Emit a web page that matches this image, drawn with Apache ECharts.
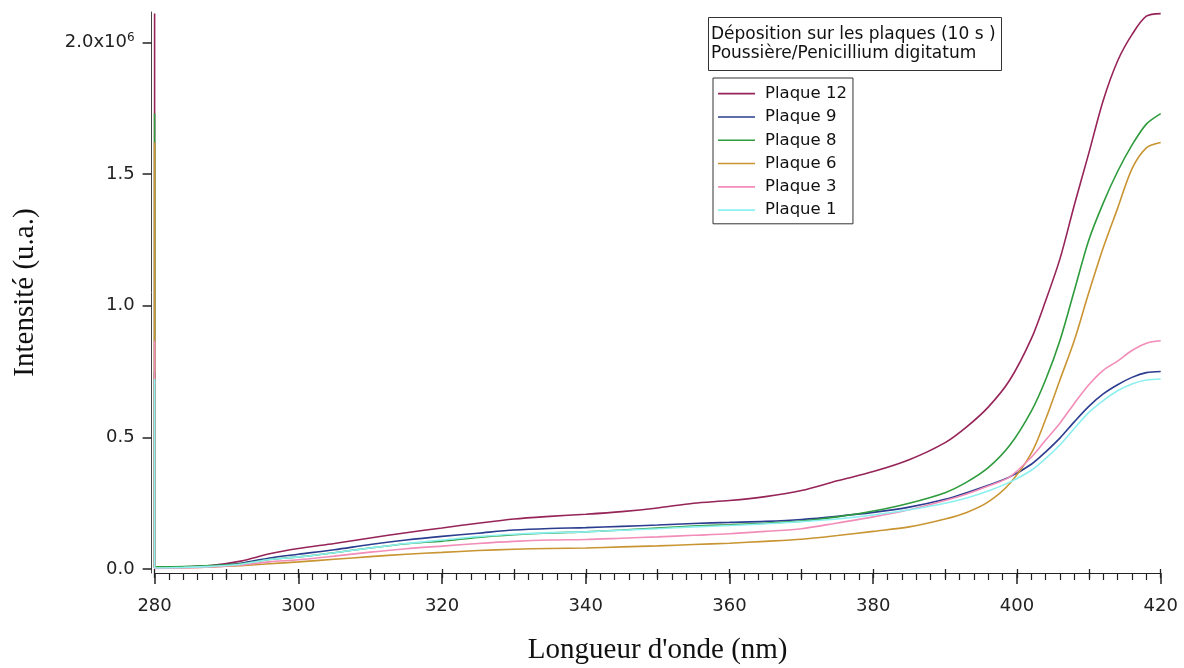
<!DOCTYPE html>
<html>
<head>
<meta charset="utf-8">
<script src="https://cdn.jsdelivr.net/npm/echarts@6/dist/echarts.min.js"></script>
<style>
  html, body { margin: 0; padding: 0; background: #ffffff; }
  #chart { width: 1184px; height: 668px; }
</style>
</head>
<body>
<div id="chart"></div>
<script>
// Wavelength grid (nm)
const wavelengths = [280, 284, 288, 292, 296, 300, 305, 310, 315, 320, 325, 330, 335, 340, 345, 350, 355, 360, 365, 370, 375, 380, 385, 390, 393, 396, 399, 402, 404, 406, 408, 410, 412, 414, 416, 418, 420];

// Fluorescence intensity, in units of 10^6 (u.a.)
const plaque12 = [0.006, 0.008, 0.014, 0.030, 0.058, 0.078, 0.097, 0.118, 0.138, 0.156, 0.174, 0.190, 0.200, 0.208, 0.218, 0.232, 0.250, 0.260, 0.275, 0.298, 0.335, 0.370, 0.415, 0.480, 0.540, 0.615, 0.718, 0.875, 1.020, 1.180, 1.385, 1.580, 1.780, 1.930, 2.030, 2.100, 2.110];
const plaque9  = [0.006, 0.007, 0.012, 0.022, 0.042, 0.056, 0.073, 0.093, 0.110, 0.124, 0.136, 0.148, 0.154, 0.157, 0.162, 0.167, 0.173, 0.177, 0.181, 0.188, 0.200, 0.215, 0.235, 0.265, 0.290, 0.318, 0.350, 0.398, 0.445, 0.498, 0.560, 0.618, 0.665, 0.700, 0.728, 0.746, 0.750];
const plaque8  = [0.008, 0.009, 0.013, 0.020, 0.036, 0.046, 0.062, 0.080, 0.096, 0.106, 0.120, 0.130, 0.137, 0.141, 0.148, 0.156, 0.163, 0.168, 0.174, 0.182, 0.198, 0.220, 0.250, 0.290, 0.330, 0.385, 0.470, 0.600, 0.720, 0.870, 1.060, 1.250, 1.390, 1.510, 1.610, 1.690, 1.730];
const plaque6  = [0.004, 0.005, 0.008, 0.013, 0.020, 0.027, 0.037, 0.047, 0.056, 0.063, 0.070, 0.075, 0.078, 0.080, 0.084, 0.088, 0.093, 0.098, 0.105, 0.113, 0.127, 0.143, 0.160, 0.190, 0.215, 0.255, 0.325, 0.440, 0.570, 0.720, 0.870, 1.050, 1.220, 1.370, 1.520, 1.600, 1.620];
const plaque3  = [0.002, 0.004, 0.008, 0.015, 0.027, 0.035, 0.049, 0.064, 0.077, 0.087, 0.097, 0.105, 0.110, 0.112, 0.117, 0.122, 0.128, 0.134, 0.143, 0.153, 0.175, 0.198, 0.225, 0.260, 0.285, 0.315, 0.350, 0.425, 0.490, 0.555, 0.630, 0.700, 0.755, 0.790, 0.830, 0.858, 0.867];
const plaque1  = [0.004, 0.006, 0.010, 0.018, 0.036, 0.046, 0.062, 0.080, 0.097, 0.110, 0.123, 0.132, 0.138, 0.141, 0.147, 0.153, 0.160, 0.165, 0.172, 0.180, 0.190, 0.205, 0.225, 0.250, 0.270, 0.296, 0.330, 0.375, 0.420, 0.472, 0.535, 0.595, 0.640, 0.677, 0.703, 0.718, 0.722];

// Axis tick labels
const xTickLabels = [280, 300, 320, 340, 360, 380, 400, 420];
const yTickValues = [0, 0.5, 1.0, 1.5, 2.0];

const traces = [
  { name: 'Plaque 12', values: plaque12, color: '#962458' },
  { name: 'Plaque 9',  values: plaque9,  color: '#2B3D8F' },
  { name: 'Plaque 8',  values: plaque8,  color: '#2E9B3C' },
  { name: 'Plaque 6',  values: plaque6,  color: '#C99532' },
  { name: 'Plaque 3',  values: plaque3,  color: '#F28CB8' },
  { name: 'Plaque 1',  values: plaque1,  color: '#8CF0F0' }
];

function curveData(values) {
  return wavelengths.map((w, i) => [w, values[i]]);
}

// Each recorded trace begins with the return sweep at 280 nm
// (the final intensity drawn straight back down to the start of the scan).
function returnSweep(values) {
  return [[wavelengths[0], values[values.length - 1]], [wavelengths[0], values[0]]];
}

const axisColor = '#222';
const sansFont = 'DejaVu Sans';
const serifFont = 'Liberation Serif';

const chart = echarts.init(document.getElementById('chart'), null, { renderer: 'canvas' });

const series = [];
traces.forEach(t => {
  series.push({
    name: t.name,
    type: 'line',
    symbol: 'none',
    smooth: 0.3,
    color: t.color,
    lineStyle: { color: t.color, width: 1.6 },
    data: curveData(t.values)
  });
  series.push({
    name: t.name,
    type: 'line',
    symbol: 'none',
    color: t.color,
    lineStyle: { color: t.color, width: 1.6 },
    data: returnSweep(t.values)
  });
});

chart.setOption({
  backgroundColor: '#ffffff',
  animation: false,
  title: {
    text: 'Déposition sur les plaques (10 s )\nPoussière/Penicillium digitatum',
    left: 708,
    top: 17,
    padding: [8, 6, 8, 3],
    borderColor: '#333',
    borderWidth: 1,
    textStyle: {
      fontFamily: sansFont,
      fontSize: 17,
      fontWeight: 'normal',
      color: '#111',
      lineHeight: 19
    }
  },
  legend: {
    orient: 'vertical',
    left: 713,
    top: 78,
    padding: [4, 6, 2, 5],
    icon: 'rect',
    itemWidth: 37,
    itemHeight: 1.6,
    itemGap: 0,
    borderColor: '#333',
    borderWidth: 1,
    textStyle: {
      fontFamily: sansFont,
      fontSize: 16.5,
      color: '#111',
      lineHeight: 23.3,
      padding: [0, 0, 0, 5]
    },
    data: traces.map(t => t.name)
  },
  grid: {
    left: 154.6,
    right: 23.3,
    top: 12,
    bottom: 95,
    containLabel: false,
    outerBoundsMode: 'none'
  },
  xAxis: [
    {
      type: 'value',
      position: 'bottom',
      min: 280,
      max: 420,
      interval: 20,
      name: "Longueur d'onde (nm)",
      nameLocation: 'middle',
      nameGap: 63,
      nameTextStyle: { fontFamily: serifFont, fontSize: 29, color: '#111' },
      axisLine: { show: true, onZero: false, lineStyle: { color: axisColor, width: 1 } },
      axisTick: { show: true, inside: false, length: 11, lineStyle: { color: axisColor, width: 1.5 } },
      minorTick: { show: true, splitNumber: 10, length: 7, lineStyle: { color: axisColor, width: 1.2 } },
      axisLabel: {
        customValues: xTickLabels,
        margin: 24,
        fontFamily: sansFont,
        fontSize: 18,
        color: axisColor
      },
      splitLine: { show: false },
      minorSplitLine: { show: false }
    },
    {
      // intermediate ticks every 10 nm
      type: 'value',
      position: 'bottom',
      min: 280,
      max: 420,
      interval: 10,
      axisLine: { show: false },
      axisTick: { show: true, inside: false, length: 9, lineStyle: { color: axisColor, width: 1.3 } },
      axisLabel: { show: false },
      splitLine: { show: false }
    }
  ],
  yAxis: {
    type: 'value',
    min: -0.0152,
    max: 2.116,
    offset: 3,
    name: 'Intensité (u.a.)',
    nameLocation: 'middle',
    nameGap: 112,
    nameTextStyle: { fontFamily: serifFont, fontSize: 29, color: '#111' },
    axisLine: { show: true, onZero: false, lineStyle: { color: '#444', width: 1 } },
    axisTick: {
      show: true,
      inside: false,
      length: 9,
      customValues: yTickValues,
      lineStyle: { color: axisColor, width: 1.5 }
    },
    axisLabel: {
      customValues: yTickValues,
      margin: 17,
      fontFamily: sansFont,
      fontSize: 18,
      color: axisColor,
      formatter: function (v) {
        const s = v.toFixed(1);
        return v === 2 ? s + 'x10{sup|6}' : s;
      },
      rich: {
        sup: { fontFamily: sansFont, fontSize: 12, color: axisColor, padding: [0, 0, 10, 0] }
      }
    },
    splitLine: { show: false }
  },
  series: series
});
</script>
</body>
</html>
